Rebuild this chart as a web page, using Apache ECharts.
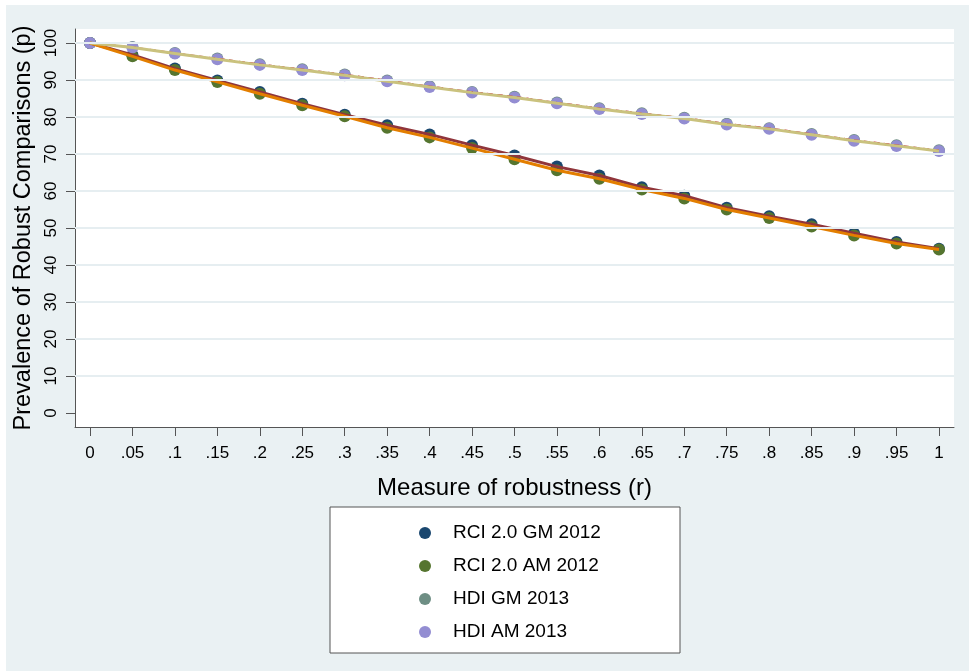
<!DOCTYPE html>
<html>
<head>
<meta charset="utf-8">
<script src="https://cdn.jsdelivr.net/npm/echarts@6/dist/echarts.min.js"></script>
<style>
html,body{margin:0;padding:0;background:#ffffff;width:969px;height:671px;overflow:hidden;}
#chart{position:absolute;left:6px;top:5px;width:963px;height:666px;}
</style>
</head>
<body>
<div id="chart"></div>
<script>
var rValues = [0, 0.05, 0.1, 0.15, 0.2, 0.25, 0.3, 0.35, 0.4, 0.45, 0.5, 0.55, 0.6, 0.65, 0.7, 0.75, 0.8, 0.85, 0.9, 0.95, 1];
var rciGM2012 = [100, 96.8, 93.1, 89.9, 86.8, 83.6, 80.6, 77.8, 75.3, 72.4, 69.6, 66.6, 64.2, 61.0, 58.7, 55.5, 53.2, 51.0, 48.6, 46.2, 44.4];
var rciAM2012 = [100, 96.4, 92.7, 89.5, 86.3, 83.2, 80.2, 77.1, 74.5, 71.6, 68.6, 65.6, 63.3, 60.4, 58.0, 55.0, 52.7, 50.4, 48.0, 45.8, 44.2];
var hdiGM2013 = [100, 98.9, 97.3, 95.8, 94.3, 92.9, 91.5, 89.9, 88.3, 86.8, 85.5, 83.9, 82.4, 81.0, 79.8, 78.2, 77.0, 75.4, 73.8, 72.4, 71.0];
var hdiAM2013 = [100, 98.8, 97.2, 95.6, 94.1, 92.7, 91.3, 89.7, 88.1, 86.6, 85.3, 83.7, 82.2, 80.8, 79.6, 78.0, 76.8, 75.2, 73.6, 72.2, 70.8];
var xTicks = [0, 0.05, 0.1, 0.15, 0.2, 0.25, 0.3, 0.35, 0.4, 0.45, 0.5, 0.55, 0.6, 0.65, 0.7, 0.75, 0.8, 0.85, 0.9, 0.95, 1];
var yTicks = [0, 10, 20, 30, 40, 50, 60, 70, 80, 90, 100];
var yGrid = [10, 20, 30, 40, 50, 60, 70, 80, 90, 100];

function pairs(ys) { return rValues.map(function (r, i) { return [r, ys[i]]; }); }

var FONT = 'Liberation Sans, Arial, sans-serif';
var chart = echarts.init(document.getElementById('chart'), null, {renderer: 'canvas'});

function scatter(name, data, color) {
  return {
    name: name, type: 'scatter', data: pairs(data), symbol: 'circle', symbolSize: 12,
    itemStyle: {color: color, opacity: 1}, z: 3, animation: false
  };
}
function line(name, data, color, width, type) {
  return {
    name: name, type: 'line', data: pairs(data), showSymbol: false, symbol: 'none',
    lineStyle: {color: color, width: width, type: type}, z: 4, animation: false
  };
}

chart.setOption({
  backgroundColor: '#eaf1f3',
  animation: false,
  grid: {left: 69, top: 24, right: 15, bottom: 244, show: true, backgroundColor: '#ffffff', borderWidth: 0,
         containLabel: false, outerBoundsMode: 'none'},
  xAxis: {
    type: 'value', min: -0.0177, max: 1.0177,
    name: 'Measure of robustness (r)', nameLocation: 'middle', nameGap: 49,
    nameTextStyle: {fontFamily: FONT, fontSize: 24, color: '#000'},
    axisLine: {show: true, onZero: false, lineStyle: {color: '#555', width: 1}},
    axisTick: {show: true, inside: false, length: 9, customValues: xTicks, lineStyle: {color: '#555'}},
    axisLabel: {
      customValues: xTicks, margin: 18, fontFamily: FONT, fontSize: 17, color: '#000',
      formatter: function (v) {
        if (v === 0) return '0';
        if (v === 1) return '1';
        return String(Math.round(v * 100) / 100).replace(/^0/, '');
      }
    },
    splitLine: {show: false}
  },
  yAxis: {
    type: 'value', min: -3.8, max: 103.8,
    name: 'Prevalence of Robust Comparisons (p)', nameLocation: 'middle', nameGap: 38,
    nameTextStyle: {fontFamily: FONT, fontSize: 23.5, color: '#000'},
    axisLine: {show: true, onZero: false, lineStyle: {color: '#555', width: 1}},
    axisTick: {show: true, inside: false, length: 9, customValues: yTicks, lineStyle: {color: '#555'}},
    axisLabel: {customValues: yTicks, rotate: 90, margin: 15, fontFamily: FONT, fontSize: 17, color: '#000'},
    splitLine: {show: false}
  },
  legend: {
    orient: 'vertical', left: 324, top: 502,
    data: ['RCI 2.0 GM 2012', 'RCI 2.0 AM 2012', 'HDI GM 2013', 'HDI AM 2013'],
    icon: 'circle', itemWidth: 12, itemHeight: 12, itemGap: 13,
    padding: [16, 37, 11, 89],
    backgroundColor: '#ffffff', borderColor: '#555', borderWidth: 1, borderRadius: 0,
    textStyle: {fontFamily: FONT, fontSize: 19, lineHeight: 20, color: '#000', padding: [0, 0, 0, 17], width: 190}
  },
  series: [
    {
      name: 'grid', type: 'line', data: [], z: 1, silent: true, animation: false,
      markLine: {
        silent: true, symbol: ['none', 'none'], label: {show: false}, animation: false,
        lineStyle: {color: '#e6eef1', width: 2, type: 'solid'},
        data: yGrid.map(function (v) { return {yAxis: v}; })
      }
    },
    scatter('RCI 2.0 GM 2012', rciGM2012, '#1a476f'),
    scatter('RCI 2.0 AM 2012', rciAM2012, '#55752f'),
    scatter('HDI GM 2013', hdiGM2013, '#6e8e84'),
    scatter('HDI AM 2013', hdiAM2013, '#938dd2'),
    line('RCI GM line', rciGM2012, '#90353b', 3, 'solid'),
    line('RCI AM line', rciAM2012, '#e37e00', 3, 'solid'),
    line('HDI GM line', hdiGM2013, '#c10534', 1.5, [6, 4]),
    line('HDI AM line', hdiAM2013, '#cac27e', 3, 'solid')
  ]
});
</script>
</body>
</html>
